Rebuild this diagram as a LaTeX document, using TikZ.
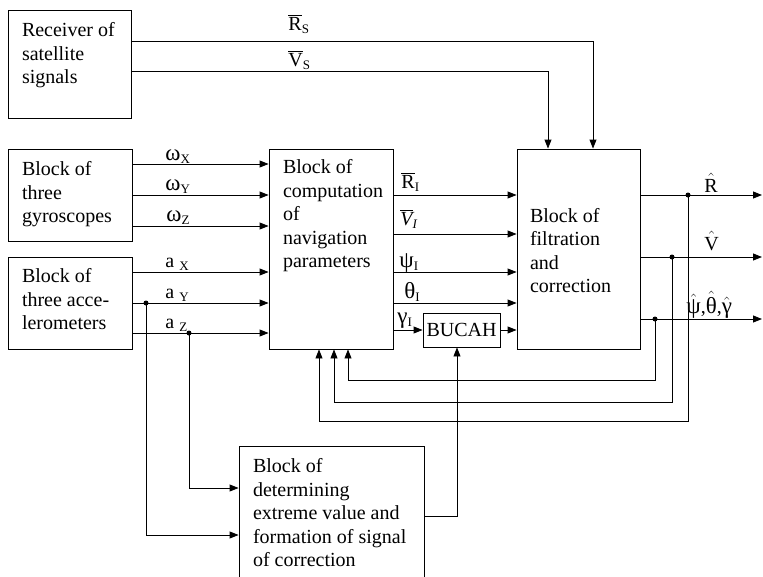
\documentclass[tikz,border=0pt]{standalone}
\usepackage{fontspec}
\setmainfont{Liberation Serif}
\usetikzlibrary{arrows.meta}

\newcommand\dn[1]{\raisebox{-3pt}{\fontsize{13}{13}\selectfont #1}}
\newcommand\gk[1]{{\fontsize{23}{23}\selectfont #1}}
\newcommand\bb[1]{$\overline{\hbox{#1}}$}
\newcommand\hh[1]{$\hat{\hbox{#1}}$}

\begin{document}
\begin{tikzpicture}[x=1pt,y=-1pt,line width=0.9pt,
  blk/.style={draw,inner sep=0pt},
  txt/.style={inner sep=0pt,anchor=north west,align=left,font=\fontsize{20}{23.5}\selectfont},
  lbl/.style={inner sep=0pt,anchor=base west,font=\fontsize{20}{22}\selectfont},
  arr/.style={-{Triangle[length=9pt,width=7pt]}},
  dot/.style={circle,fill,inner sep=0pt,minimum size=5pt}]
\useasboundingbox (0,0) rectangle (763,576);

% blocks
\node[blk,minimum width=123pt,minimum height=108pt] (recv) at (69.5,64) {};
\node[blk,minimum width=124pt,minimum height=92pt] (gyro) at (70,195) {};
\node[blk,minimum width=124pt,minimum height=92pt] (accel) at (70,303) {};
\node[blk,minimum width=124pt,minimum height=200pt] (comp) at (331,249) {};
\node[blk,minimum width=123pt,minimum height=200pt] (filt) at (578.5,249) {};
\node[blk,minimum width=77pt,minimum height=34pt,font=\fontsize{20}{22}\selectfont] (bucah) at (461.5,330) {BUCAH};
\node[blk,minimum width=185pt,minimum height=144pt] (extr) at (331.5,518) {};

\node[txt] (recvtxt) at ([shift={(14pt,-12.5pt)}]recv.north west) {Receiver of\\satellite\\signals};
\node[txt] (gyrotxt) at ([shift={(14pt,-12.5pt)}]gyro.north west) {Block of\\three\\gyroscopes};
\node[txt] (acceltxt) at ([shift={(14pt,-11.5pt)}]accel.north west) {Block of\\three acce-\\lerometers};
\node[txt] (comptxt) at ([shift={(14pt,-10.5pt)}]comp.north west) {Block of\\computation\\of\\navigation\\parameters};
\node[txt] (filttxt) at ([shift={(13pt,-59pt)}]filt.north west) {Block of\\filtration\\and\\correction};
\node[txt] (extrtxt) at ([shift={(14pt,-12.5pt)}]extr.north west) {Block of\\determining\\extreme value and\\formation of signal\\of correction};

% branch points
\node[dot] (dY) at (146,303) {};
\node[dot] (dZ) at (189,333) {};
\node[dot] (dR) at (688,195) {};
\node[dot] (dV) at (672,257) {};
\node[dot] (dP) at (655,319) {};
\coordinate (outR) at (762,195);
\coordinate (outV) at (762,257);
\coordinate (outP) at (762,319);

% satellite signals
\draw[arr] (recv.east |- 0,41) -| (filt.north -| 593,0);
\draw[arr] (recv.east |- 0,71) -| (filt.north -| 548,0);
\node[lbl] (rs) at (288,30) {\bb{R}\dn{S}};
\node[lbl] (vs) at (288,66) {\bb{V}\dn{S}};

% gyros and accelerometers
\draw[arr] (gyro.east |- 0,164) -- (comp.west |- 0,164);
\draw[arr] (gyro.east |- 0,195) -- (comp.west |- 0,195);
\draw[arr] (gyro.east |- 0,226) -- (comp.west |- 0,226);
\draw[arr] (accel.east |- 0,272) -- (comp.west |- 0,272);
\draw[arr] (accel.east |- dY) -- (comp.west |- dY);
\draw[arr] (accel.east |- dZ) -- (comp.west |- dZ);
\node[lbl] (wx) at (165,160) {\gk{ω}\dn{X}};
\node[lbl] (wy) at (165,190) {\gk{ω}\dn{Y}};
\node[lbl] (wz) at (166,221) {\gk{ω}\dn{Z}};
\node[lbl] (ax) at (165,267) {a \dn{X}};
\node[lbl] (ay) at (165,298) {a \dn{Y}};
\node[lbl] (az) at (165,328) {a \dn{Z}};

\draw[arr] (dY.center) |- (extr.west |- 0,535);
\draw[arr] (dZ.center) |- (extr.west |- 0,488);

% navigation parameters
\draw[arr] (comp.east |- dR) -- (filt.west |- dR);
\draw[arr] (comp.east |- 0,234) -- (filt.west |- 0,234);
\draw[arr] (comp.east |- 0,272) -- (filt.west |- 0,272);
\draw[arr] (comp.east |- 0,303) -- (filt.west |- 0,303);
\draw[arr] (comp.east |- bucah) -- (bucah.west);
\draw[arr] (bucah.east) -- (filt.west |- bucah);
\node[lbl] (ri) at (401,188) {\bb{R}\dn{I}};
\node[lbl] (vi) at (400,225) {\bb{\itshape V}\dn{\itshape I}};
\node[lbl] (pi) at (399,267) {\gk{ψ}\dn{I}};
\node[lbl] (ti) at (404,298) {\gk{θ}\dn{I}};
\node[lbl] (gi) at (397,323) {\gk{γ}\dn{I}};

% correction signal
\draw[arr] (extr.east |- 0,516) -| (bucah.south -| 457,0);

% outputs
\draw[arr] (filt.east |- outR) -- (outR);
\draw[arr] (filt.east |- outV) -- (outV);
\draw[arr] (filt.east |- outP) -- (outP);
\node[lbl] (rh) at (704,192) {\hh{R}};
\node[lbl] (vh) at (704,250) {\hh{V}};
\node[lbl] (ph) at (686,313) {\hh{\gk{ψ}},\hh{\gk{θ}},\hh{\gk{γ}}};

% feedback
\draw[arr] (dP.center) |- (348,380) -- (comp.south -| 348,0);
\draw[arr] (dV.center) |- (334,402) -- (comp.south -| 334,0);
\draw[arr] (dR.center) |- (319,421) -- (comp.south -| 319,0);
\end{tikzpicture}
\end{document}
